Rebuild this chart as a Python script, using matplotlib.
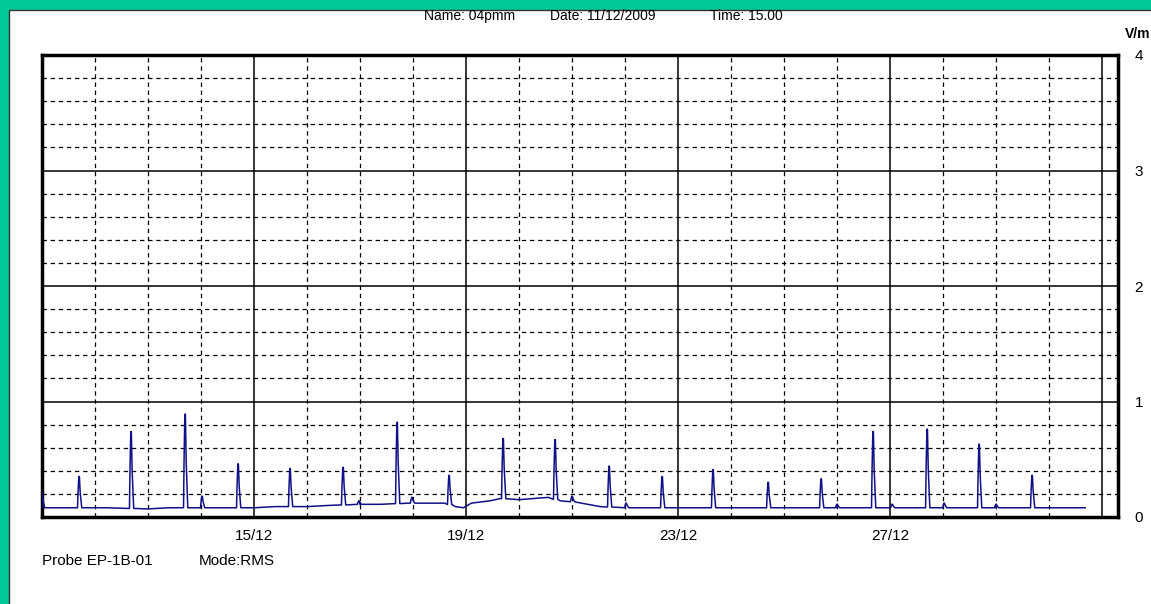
import numpy as np
import matplotlib.pyplot as plt
from matplotlib.patches import Rectangle
from matplotlib.ticker import MultipleLocator

# days counted from 11/12 00:00
spike_day = [0.0, 0.70, 1.68, 2.70, 3.02, 3.70, 4.68, 5.68, 5.98, 6.70, 6.98, 7.68,
             8.70, 9.68, 10.00, 10.70, 11.02, 11.70, 12.66, 13.70, 14.70, 15.00,
             15.68, 16.04, 16.70, 17.02, 17.68, 18.00, 18.68]
spike_peak = [0.21, 0.35, 0.74, 0.89, 0.18, 0.46, 0.42, 0.43, 0.14, 0.82, 0.17, 0.36,
              0.68, 0.67, 0.18, 0.44, 0.12, 0.35, 0.41, 0.30, 0.33, 0.11,
              0.74, 0.11, 0.76, 0.12, 0.63, 0.11, 0.36]

base_day = [0.05, 0.5, 1.2, 2.0, 2.4, 3.3, 4.0, 4.4, 5.0, 5.4, 6.0, 6.4, 6.9, 7.3, 7.6,
            7.8, 7.95, 8.1, 8.45, 8.65, 9.0, 9.55, 9.78, 10.06, 10.53, 11.0, 12.0,
            13.0, 14.0, 15.0, 16.0, 17.0, 18.0, 19.0, 19.68]
base_val = [0.08, 0.08, 0.08, 0.07, 0.08, 0.08, 0.08, 0.09, 0.09, 0.10, 0.11, 0.11,
            0.12, 0.12, 0.12, 0.09, 0.08, 0.12, 0.14, 0.16, 0.15, 0.17, 0.14, 0.13,
            0.09, 0.08, 0.08, 0.08, 0.08, 0.08, 0.08, 0.08, 0.08, 0.08, 0.08]

xtick_days = [0, 4, 8, 12, 16, 20]
xtick_labels = ['', '15/12', '19/12', '23/12', '27/12', '']
ytick_vals = [0, 1, 2, 3, 4]

# build polyline: baseline knots plus spike shapes
pts = list(zip(base_day, base_val))
for d, p in zip(spike_day, spike_peak):
    b = np.interp(d, base_day, base_val)
    pts += [(d - 0.03, b), (d - 0.02, (b + p) / 2), (d - 0.005, p),
            (d + 0.005, p), (d + 0.02, (b + p) / 2), (d + 0.05, b)]
pts.sort()
xs = [max(q[0], 0) for q in pts]
ys = [q[1] for q in pts]

W, H = 1151, 604
fig = plt.figure(figsize=(W / 100, H / 100), dpi=100)
fig.patch.set_facecolor('#00C896')
fig.patches.append(Rectangle((9 / W, -0.01), 1, (H - 10) / H + 0.01, transform=fig.transFigure,
                             facecolor='white', edgecolor='#333333', lw=1, zorder=-10))

font = ['Liberation Sans', 'DejaVu Sans']
fs = 11

ax = fig.add_axes([42 / W, (H - 517) / H, (1118 - 42) / W, (517 - 55) / H])
ax.plot(xs, ys, color='#101088', lw=1.1, zorder=3)
ax.set_xlim(0, 20.3)
ax.set_ylim(0, 4)

ax.set_xticks(xtick_days)
ax.set_xticklabels(xtick_labels, family=font, fontsize=fs)
ax.xaxis.set_minor_locator(MultipleLocator(1))
ax.set_yticks(ytick_vals)
ax.yaxis.set_minor_locator(MultipleLocator(0.2))
ax.yaxis.tick_right()
ax.set_yticklabels([str(v) for v in ytick_vals], family=font, fontsize=fs)
ax.tick_params(which='both', length=0)
ax.tick_params(axis='y', pad=12)
ax.tick_params(axis='x', pad=9)

ax.grid(which='major', color='black', lw=1.1, ls='-')
ax.grid(which='minor', color='black', lw=0.9, ls=(0, (3.5, 3)))
for s in ax.spines.values():
    s.set_linewidth(2.5)
    s.set_color('black')

fig.text(424 / W, 1 - 16 / H, 'Name: 04pmm', family=font, fontsize=10, va='center')
fig.text(550 / W, 1 - 16 / H, 'Date: 11/12/2009', family=font, fontsize=10, va='center')
fig.text(710 / W, 1 - 16 / H, 'Time: 15.00', family=font, fontsize=10, va='center')
fig.text(1150 / W, 1 - 34 / H, 'V/m', family=font, fontsize=10, fontweight='bold',
         va='center', ha='right')
fig.text(42 / W, 1 - 561 / H, 'Probe EP-1B-01', family=font, fontsize=fs, va='center')
fig.text(199 / W, 1 - 561 / H, 'Mode:RMS', family=font, fontsize=fs, va='center')

fig.savefig('out.png', dpi=100, facecolor=fig.get_facecolor())
